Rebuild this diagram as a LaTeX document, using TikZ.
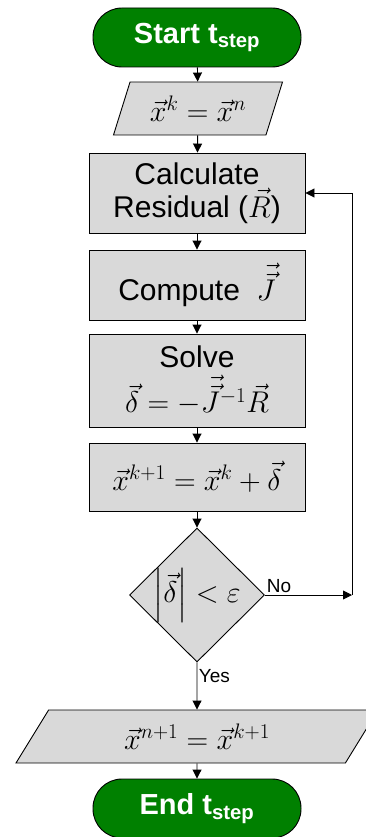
\RequirePackage{fix-cm}
\documentclass[tikz,border=0pt]{standalone}
\usepackage{amsmath,amssymb}
\usepackage{fontspec}
\setmainfont{Liberation Sans}
\usetikzlibrary{shapes.geometric,arrows.meta}

\begin{document}
\begin{tikzpicture}[x=1pt,y=-1pt,line width=0.9pt,
  term/.style={rectangle,rounded corners=29pt,draw,fill=green!50!black,
               text=white,minimum width=208pt,minimum height=59pt,inner sep=0pt,
               font=\fontsize{29}{33}\selectfont\bfseries},
  io/.style={trapezium,trapezium stretches body,draw,fill=black!15,
             minimum height=53pt,inner sep=0pt,font=\fontsize{30}{33}\selectfont},
  proc/.style={rectangle,draw,fill=black!15,minimum width=216pt,inner sep=0pt,
               align=center,font=\fontsize{30}{33}\selectfont},
  decision/.style={diamond,draw,fill=black!15,aspect=1,inner sep=-2.5pt,
                   minimum width=135pt,minimum height=134pt,
                   font=\fontsize{30}{33}\selectfont},
  flow/.style={-{Triangle[length=9pt,width=9pt]}},
  tag/.style={font=\fontsize{19}{21}\selectfont,inner sep=1.5pt}]
  \useasboundingbox (0,0) rectangle (366,837);
  % Newton iteration inside one time step.
  \node[term] (start) at (197,37.5) {Start t\textsubscript{step}};
  \node[io,minimum width=169pt,trapezium left angle=57,
        trapezium right angle=123] (init) at (198,108.5)
        {$\vec{x}^k = \vec{x}^n$};
  \node[proc,minimum height=80pt] (resid) at (197,193)
        {Calculate\\Residual ($\vec{R}$)};
  \node[proc,minimum height=70pt] (jac) at (197,285)
        {Compute \ $\vec{\vec{J}}$};
  \node[proc,minimum height=93pt] (solve) at (197,380.5)
        {Solve\\[7pt]$\vec{\delta} = -\vec{\vec{J}}^{-1}\vec{R}$};
  \node[proc,minimum height=68pt] (update) at (197,477)
        {$\vec{x}^{k+1} = \vec{x}^k + \vec{\delta}$};
  \node[decision] (check) at (197,595)
        {$\left|\vec{\delta}\right| < \varepsilon$};
  \node[io,minimum width=362pt,trapezium left angle=38,
        trapezium right angle=142] (final) at (197,736.5)
        {$\vec{x}^{n+1} = \vec{x}^{k+1}$};
  \node[term] (stop) at (197,808.5) {End t\textsubscript{step}};
  \coordinate (back) at (352,595);

  \draw[flow] (start) -- (init);
  \draw[flow] (init) -- (resid);
  \draw[flow] (resid) -- (jac);
  \draw[flow] (jac) -- (solve);
  \draw[flow] (solve) -- (update);
  \draw[flow] (update) -- (check);
  \draw[flow] (check.east) -- (back) node[tag,pos=0,above right] {No};
  \draw[flow] (back) |- (resid.east);
  \draw[flow] (check) -- (final) node[tag,pos=0.28,right] {Yes};
  \draw[flow] (final) -- (stop);
\end{tikzpicture}
\end{document}
